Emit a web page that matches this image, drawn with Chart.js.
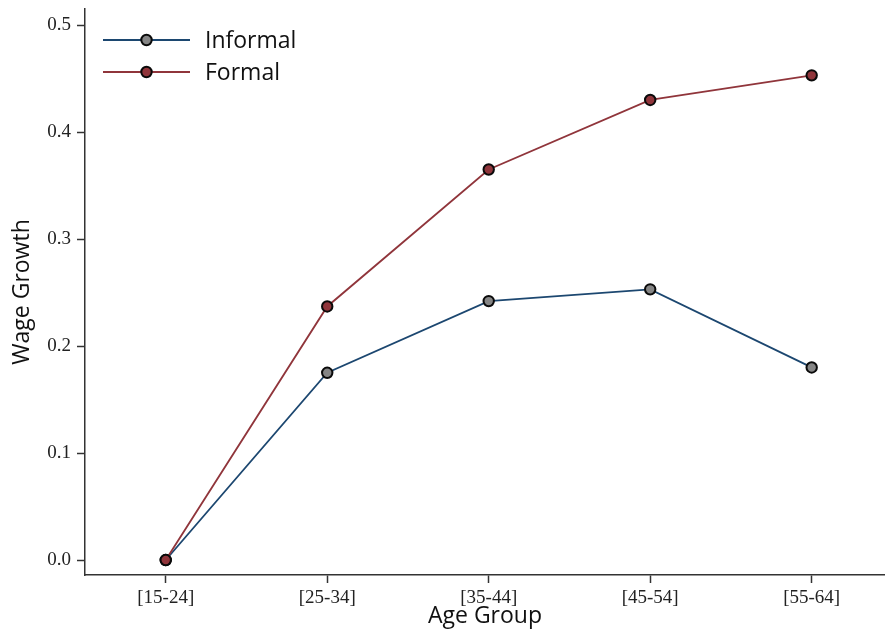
<!DOCTYPE html>
<html>
<head>
<meta charset="utf-8">
<script src="https://cdn.jsdelivr.net/npm/chart.js@4/dist/chart.umd.min.js"></script>
<style>
  html, body { margin: 0; padding: 0; background: #fff; overflow: hidden; }
  #wrap { width: 885px; height: 631px; }
</style>
</head>
<body>
<div id="wrap"><canvas id="c" width="885" height="631"></canvas></div>
<script>
// Age groups on the x axis
const categories = ['[15-24]', '[25-34]', '[35-44]', '[45-54]', '[55-64]'];
// Wage growth relative to the youngest group
const informal = [0.000, 0.175, 0.242, 0.253, 0.180];
const formal   = [0.000, 0.237, 0.365, 0.430, 0.453];
const yTicks = [0.0, 0.1, 0.2, 0.3, 0.4, 0.5];

const BLUE = '#1c4770';
const RED = '#90353b';
const GREY = '#858585';
const SERIF = '"Liberation Serif", "Times New Roman", serif';
const SANS = '"Open Sans", "Noto Sans", sans-serif';

const toPoints = arr => arr.map((v, i) => ({ x: i, y: v }));

// Legend: a short line with a marker in the middle, then the label
const lineLegend = {
  id: 'lineLegend',
  afterDraw(chart) {
    const ctx = chart.ctx;
    const x0 = 103, x1 = 190, tx = 205;
    chart.data.datasets.forEach((ds, i) => {
      const y = 40 + i * 32;
      ctx.save();
      ctx.strokeStyle = ds.borderColor;
      ctx.lineWidth = ds.borderWidth;
      ctx.beginPath();
      ctx.moveTo(x0, y);
      ctx.lineTo(x1, y);
      ctx.stroke();
      ctx.beginPath();
      ctx.arc((x0 + x1) / 2, y, ds.pointRadius, 0, Math.PI * 2);
      ctx.fillStyle = ds.pointBackgroundColor;
      ctx.fill();
      ctx.lineWidth = ds.pointBorderWidth;
      ctx.strokeStyle = ds.pointBorderColor;
      ctx.stroke();
      ctx.fillStyle = '#111';
      ctx.font = '23px ' + SANS;
      ctx.textBaseline = 'middle';
      ctx.textAlign = 'left';
      ctx.fillText(ds.label, tx, y + 1);
      ctx.restore();
    });
  }
};

new Chart(document.getElementById('c'), {
  type: 'line',
  data: {
    datasets: [
      {
        label: 'Informal',
        data: toPoints(informal),
        order: 1,
        borderColor: BLUE,
        borderWidth: 1.8,
        pointRadius: 5.2,
        pointBackgroundColor: GREY,
        pointBorderColor: '#0a0a0a',
        pointBorderWidth: 2,
        tension: 0
      },
      {
        label: 'Formal',
        data: toPoints(formal),
        order: 0,
        borderColor: RED,
        borderWidth: 1.8,
        pointRadius: 5.2,
        pointBackgroundColor: RED,
        pointBorderColor: '#0a0a0a',
        pointBorderWidth: 2,
        tension: 0
      }
    ]
  },
  options: {
    responsive: false,
    animation: false,
    events: [],
    layout: { autoPadding: false, padding: { top: 9, right: 0, left: 0, bottom: 0 } },
    plugins: { legend: { display: false }, tooltip: { enabled: false } },
    scales: {
      x: {
        type: 'linear',
        min: -0.5,
        max: 4.454,
        afterBuildTicks(scale) {
          scale.ticks = categories.map((_, i) => ({ value: i }));
        },
        afterFit(scale) {
          scale.height = 56;
          scale.paddingLeft = 0;
          scale.paddingRight = 0;
        },
        border: { display: true, color: '#333', width: 1.5 },
        grid: { drawOnChartArea: false, drawTicks: true, tickLength: 8, tickWidth: 1.5, tickColor: '#333' },
        ticks: {
          autoSkip: false,
          maxRotation: 0,
          padding: 4,
          color: '#222',
          font: { family: SERIF, size: 19 },
          callback: v => categories[v]
        },
        title: {
          display: true,
          text: 'Age Group',
          color: '#111',
          font: { family: SANS, size: 23 },
          padding: { top: 0, bottom: 1 }
        }
      },
      y: {
        min: -0.014,
        max: 0.515,
        afterBuildTicks(scale) {
          scale.ticks = yTicks.map(v => ({ value: v }));
        },
        afterFit(scale) {
          scale.width = 85;
          scale.paddingTop = 0;
          scale.paddingBottom = 0;
        },
        border: { display: true, color: '#333', width: 1.5 },
        grid: { drawOnChartArea: false, drawTicks: true, tickLength: 8, tickWidth: 1.5, tickColor: '#333' },
        ticks: {
          padding: 6,
          color: '#222',
          font: { family: SERIF, size: 19 },
          callback: v => v.toFixed(1)
        },
        title: {
          display: true,
          text: 'Wage Growth',
          color: '#111',
          font: { family: SANS, size: 23 },
          padding: { top: 9, bottom: 0 }
        }
      }
    }
  },
  plugins: [lineLegend]
});
</script>
</body>
</html>
